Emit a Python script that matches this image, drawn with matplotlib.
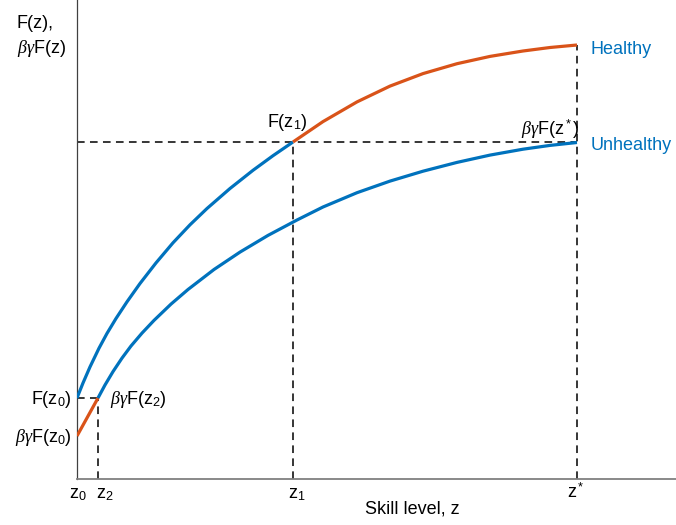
import matplotlib
matplotlib.use("Agg")
import matplotlib.pyplot as plt

plt.rcParams["font.family"] = ["Liberation Sans", "DejaVu Sans"]
plt.rcParams["mathtext.fontset"] = "custom"
plt.rcParams["mathtext.rm"] = "Liberation Sans"
plt.rcParams["mathtext.it"] = "Liberation Serif:italic"
plt.rcParams["mathtext.bf"] = "Liberation Sans:bold"

BLUE = "#0072BD"
ORANGE = "#D95319"

# key points on the skill axis
z0, z2, z1, zstar = 0, 21, 216, 500
F_z0, F_z1, F_zstar = 81, 337, 434
bgF_z0 = 43

# Healthy F(z): blue part up to z1, orange part after
healthy_x_lo = [0, 6, 13, 22, 30, 39, 50, 63, 79, 96, 113, 130, 153, 176, 196, 216]
healthy_y_lo = [81, 96, 112.1, 130.8, 145.6, 160.5, 177.2, 195.5, 216.1, 236.2,
                254.2, 270.5, 290.5, 308.7, 323.3, 337]
healthy_x_hi = [216, 246, 280, 313, 346, 380, 413, 446, 473, 500]
healthy_y_hi = [337, 357.4, 377.1, 392.9, 405.4, 415.3, 422.6, 428, 431.5, 434]

# Unhealthy beta*gamma*F(z): orange up to z2, blue after
unhealthy_x_lo = [0, 21]
unhealthy_y_lo = [43, 81]
unhealthy_x_hi = [21, 28, 36, 45, 54, 65, 77, 94, 111, 137, 163, 191, 220, 246,
                  280, 313, 346, 380, 413, 446, 473, 500]
unhealthy_y_hi = [81, 94, 107.4, 120.9, 133, 145.9, 158.6, 174.9, 189.5, 209.5,
                  226.9, 243.6, 259, 272, 286.3, 297.9, 307.8, 316.6, 323.9,
                  329.8, 333.6, 336.5]

fig = plt.figure(figsize=(6.76, 5.25), dpi=100)
ax = fig.add_axes([77 / 676, 46 / 525, 599 / 676, 479 / 525])
ax.set_xlim(0, 599)
ax.set_ylim(0, 479)

dash = dict(color="black", lw=1.1, dashes=(5, 3.5), zorder=2)
ax.plot([0, zstar], [F_z1, F_z1], **dash)
ax.plot([z1, z1], [0, F_z1], **dash)
ax.plot([zstar, zstar], [0, F_zstar], **dash)
ax.plot([z2, z2], [0, F_z0], **dash)
ax.plot([0, z2], [F_z0, F_z0], **dash)

lw = 2.3
line = dict(lw=lw, zorder=3, solid_capstyle="butt", solid_joinstyle="round")
ax.plot(healthy_x_lo, healthy_y_lo, color=BLUE, **line)
ax.plot(healthy_x_hi, healthy_y_hi, color=ORANGE, **line)
ax.plot(unhealthy_x_lo, unhealthy_y_lo, color=ORANGE, **line)
ax.plot(unhealthy_x_hi, unhealthy_y_hi, color=BLUE, **line)

for s in ["top", "right"]:
    ax.spines[s].set_visible(False)
ax.spines["left"].set_color("#404040")
ax.spines["bottom"].set_color("#808080")
ax.spines["left"].set_linewidth(0.9)
ax.spines["bottom"].set_linewidth(1.3)
ax.set_xticks([])
ax.set_yticks([])

fs = 13
t = dict(fontsize=fs, va="baseline", clip_on=False)
ax.text(-60, 451, "F(z),", ha="left", **t)
ax.text(-60, 426, r"$\beta\gamma$F(z)", ha="left", **t)
ax.text(-5, 75, r"F(z$_0$)", ha="right", **t)
ax.text(-5, 37, r"$\beta\gamma$F(z$_0$)", ha="right", **t)
ax.text(33, 75, r"$\beta\gamma$F(z$_2$)", ha="left", **t)
ax.text(190, 352, r"F(z$_1$)", ha="left", **t)
ax.text(502, 344, r"$\beta\gamma$F(z$^*$)", ha="right", **t)
ax.text(514, 425, "Healthy", ha="left", color=BLUE, **t)
ax.text(514, 329, "Unhealthy", ha="left", color=BLUE, **t)

# labels under the x axis
ax.text(1, -19, r"z$_0$", ha="center", **t)
ax.text(28, -19, r"z$_2$", ha="center", **t)
ax.text(220, -19, r"z$_1$", ha="center", **t)
ax.text(499, -19, r"z$^*$", ha="center", **t)
ax.text(335, -34, "Skill level, z", ha="center", **t)

fig.savefig("out.png", dpi=100)
